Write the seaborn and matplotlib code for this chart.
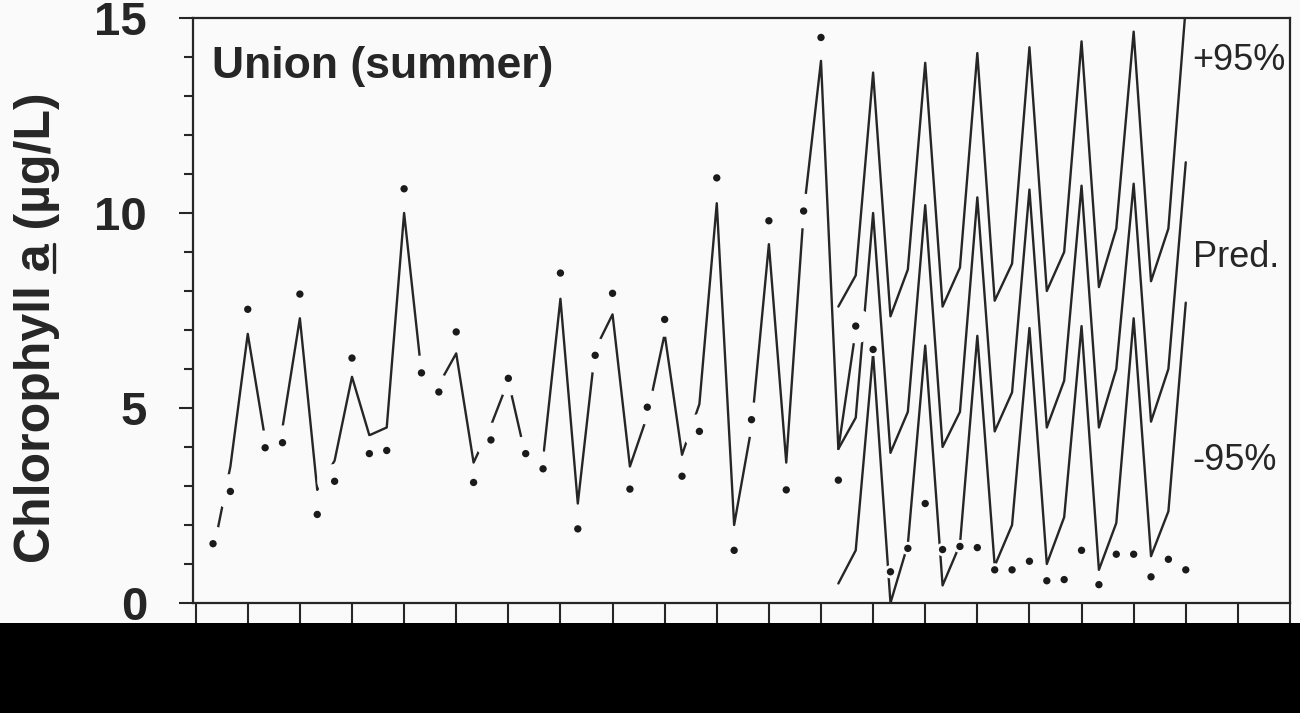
import numpy as np
import pandas as pd
import seaborn as sns
import matplotlib.pyplot as plt
from matplotlib.patches import Rectangle
from matplotlib.lines import Line2D

# observed chlorophyll a, one value per time step (1..57)
obs_t = list(range(1, 58))
obs = [1.52, 2.86, 7.53, 3.98, 4.11, 7.92, 2.27, 3.12, 6.28, 3.83,
       3.91, 10.62, 5.90, 5.41, 6.95, 3.09, 4.18, 5.76, 3.83, 3.44,
       8.46, 1.90, 6.35, 7.94, 2.92, 5.02, 7.27, 3.25, 4.40, 10.90,
       1.35, 4.70, 9.80, 2.90, 10.05, 14.50, 3.15, 7.10, 6.50, 0.80,
       1.40, 2.55, 1.37, 1.45, 1.42, 0.85, 0.85, 1.07, 0.57, 0.60,
       1.35, 0.47, 1.25, 1.25, 0.67, 1.12, 0.85]

# fitted model over the calibration period
fit_t = list(range(1, 39))
fit = [1.3, 3.5, 6.9, 4.2, 4.5, 7.3, 2.9, 3.65, 5.8, 4.3,
       4.5, 10.0, 5.9, 5.6, 6.4, 3.6, 4.55, 5.7, 3.75, 3.7,
       7.8, 2.55, 6.5, 7.4, 3.5, 4.8, 6.9, 3.8, 5.1, 10.25,
       2.0, 4.5, 9.2, 3.6, 10.0, 13.9, 3.95, 7.0]

# forecast period: prediction and 95% limits
fc_t = list(range(37, 58))
pred = [3.95, 4.75, 10.0, 3.85, 4.9, 10.2, 4.0, 4.9, 10.4, 4.4, 5.4,
        10.6, 4.5, 5.7, 10.7, 4.5, 6.0, 10.75, 4.65, 6.0, 11.3]
upper = [7.6, 8.4, 13.6, 7.35, 8.55, 13.85, 7.6, 8.6, 14.1, 7.75, 8.7,
         14.25, 8.0, 9.0, 14.4, 8.1, 9.6, 14.65, 8.25, 9.6, 15.3]
lower = [0.5, 1.35, 6.4, 0.0, 1.5, 6.6, 0.45, 1.5, 6.85, 0.95, 2.0,
         7.05, 1.0, 2.2, 7.1, 0.85, 2.05, 7.3, 1.2, 2.35, 7.7]

band_labels = ['+95%', 'Pred.', '-95%']
band_label_y = [13.9, 8.85, 3.65]

sns.set_style("ticks")
plt.rcParams['font.family'] = ['Liberation Sans', 'DejaVu Sans']

bg = '#fafafa'
ink = '#262626'

fig = plt.figure(figsize=(13, 7.13), dpi=100, facecolor=bg)
ax = fig.add_axes([0.1485, 0.1543, 0.8438, 0.8205])
ax.set_facecolor(bg)

fit_df = pd.DataFrame({'t': fit_t, 'v': fit})
fc_df = pd.DataFrame({'t': fc_t * 3,
                      'v': upper + pred + lower,
                      'band': ['up'] * len(fc_t) + ['pred'] * len(fc_t) + ['low'] * len(fc_t)})
obs_df = pd.DataFrame({'t': obs_t, 'v': obs})
hist = obs_df[obs_df.t <= 38]
fore = obs_df[obs_df.t > 38]

sns.lineplot(data=fit_df, x='t', y='v', ax=ax, color=ink, linewidth=1.7,
             estimator=None, sort=False, zorder=2)
sns.lineplot(data=fc_df, x='t', y='v', units='band', ax=ax, color=ink,
             linewidth=1.7, estimator=None, sort=False, zorder=2)

# white halos behind the observed dots (they break the lines as in the print)
sns.scatterplot(data=hist, x='t', y='v', ax=ax, s=620, color=bg,
                edgecolor='none', zorder=3)
sns.scatterplot(data=fore, x='t', y='v', ax=ax, s=90, color=bg,
                edgecolor='none', zorder=3)
sns.scatterplot(data=obs_df, x='t', y='v', ax=ax, s=28, color='#1a1a1a',
                edgecolor='none', zorder=4)

ax.set_xlim(-0.15, 62.9)
ax.set_ylim(0, 15)
ax.set_xticks(np.arange(0, 64, 3))
ax.set_xticklabels([])
ax.set_yticks([0, 5, 10, 15])
ax.set_yticks(np.arange(0, 16, 1), minor=True)
ax.set_xlabel('')
ax.set_ylabel('')
ax.tick_params(axis='y', which='major', direction='out', length=10, width=1.5,
               pad=23, labelsize=34, colors=ink)
ax.tick_params(axis='y', which='minor', direction='out', length=6.5, width=1.5,
               colors=ink)
ax.tick_params(axis='x', which='major', direction='out', length=15, width=1.5,
               colors=ink)
for lab in ax.get_yticklabels():
    lab.set_fontweight('bold')
for sp in ax.spines.values():
    sp.set_visible(True)
    sp.set_linewidth(1.6)
    sp.set_color(ink)

ax.text(0.0173, 0.897, 'Union (summer)', transform=ax.transAxes,
        fontsize=32, fontweight='bold', va='baseline', ha='left', color=ink)

for lab, yy in zip(band_labels, band_label_y):
    ax.text(57.4, yy, lab, fontsize=26, va='center', ha='left', color=ink)

# y label with underlined "a"
ylab = 'Chlorophyll a (\u00b5g/L)'
lab_size = 36
bx, cy = 50 / 1300, (713 - 328) / 713
fig.text(bx, cy, ylab, rotation=90, rotation_mode='anchor', ha='center',
         va='baseline', fontsize=lab_size, fontweight='bold', color=ink)

fig.canvas.draw()
r = fig.canvas.get_renderer()


def text_w(s):
    t = fig.text(0, 0, s, fontsize=lab_size, fontweight='bold')
    w = t.get_window_extent(r).width
    t.remove()
    return w


full_w = text_w(ylab)
a_end = text_w('Chlorophyll a')
a_start = a_end - text_w('a')
y0 = cy * 713 - full_w / 2
ux = bx * 1300 + 4
fig.add_artist(Line2D([ux / 1300, ux / 1300],
                      [(y0 + a_start) / 713, (y0 + a_end) / 713],
                      transform=fig.transFigure, color=ink, linewidth=2.4))

# dark strip along the bottom edge
fig.add_artist(Rectangle((0, 0), 1, 90 / 713, transform=fig.transFigure,
                         facecolor='black', edgecolor='none', zorder=10))

fig.savefig('out.png', dpi=100, facecolor=bg)
